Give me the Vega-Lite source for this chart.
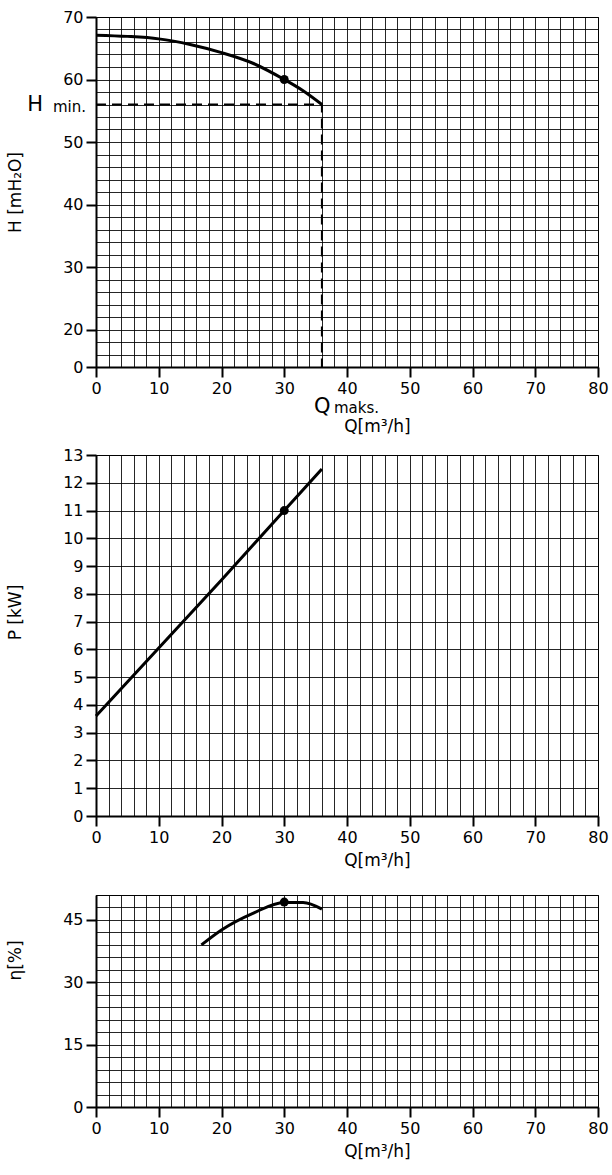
{
  "$schema": "https://vega.github.io/schema/vega-lite/v6.json",
  "padding": {"top": 8, "left": 6, "right": 5, "bottom": 5},
  "background": "white",
  "config": {
    "font": "DejaVu Sans",
    "view": {"stroke": "black", "strokeWidth": 1},
    "axis": {
      "labelFont": "DejaVu Sans", "labelFontSize": 16, "labelColor": "black",
      "titleFont": "DejaVu Sans", "titleFontSize": 17, "titleFontWeight": "normal", "titleColor": "black",
      "domainColor": "black", "domainWidth": 2, "tickColor": "black", "tickWidth": 2, "tickSize": 10,
      "gridColor": "black", "gridWidth": 1, "gridOpacity": 0.85, "labelPadding": 3,
      "labelFlush": false, "labelOverlap": false, "labelBound": false
    }
  },
  "datasets": {
    "head": [
      {"Q": 0, "H": 67.1}, {"Q": 5, "H": 66.9}, {"Q": 10, "H": 66.5}, {"Q": 15, "H": 65.6},
      {"Q": 20, "H": 64.3}, {"Q": 25, "H": 62.6}, {"Q": 30, "H": 60}, {"Q": 33, "H": 58.2}, {"Q": 36, "H": 56}
    ],
    "power": [
      {"Q": 0, "P": 3.6}, {"Q": 10, "P": 6.05}, {"Q": 20, "P": 8.5}, {"Q": 30, "P": 11}, {"Q": 36, "P": 12.5}
    ],
    "eff": [
      {"Q": 16.8, "E": 39}, {"Q": 20, "E": 42.6}, {"Q": 25, "E": 46.6}, {"Q": 30, "E": 49.2}, {"Q": 33, "E": 49.2}, {"Q": 36, "E": 47.6}
    ]
  },
  "spacing": 11,
  "bounds": "full",
  "vconcat": [
    {
      "width": 502, "height": 350,
      "encoding": {
        "x": {"field": "Q", "type": "quantitative", "scale": {"domain": [0, 80], "nice": false, "zero": false},
          "axis": {"title": "Q[m³/h]", "titleX": 281, "titleAlign": "center", "titlePadding": 22, "format": "d",
            "values": [0,2,4,6,8,10,12,14,16,18,20,22,24,26,28,30,32,34,36,38,40,42,44,46,48,50,52,54,56,58,60,62,64,66,68,70,72,74,76,78,80],
            "labelExpr": "datum.value % 10 === 0 ? datum.label : ''",
            "tickColor": {"condition": {"test": "datum.value % 10 === 0", "value": "black"}, "value": "transparent"}}},
        "y": {"field": "H", "type": "quantitative", "scale": {"domain": [14, 70], "nice": false, "zero": false},
          "axis": {"title": "H [mH₂O]", "titlePadding": 38, "format": "d",
            "values": [14,16,18,20,22,24,26,28,30,32,34,36,38,40,42,44,46,48,50,52,54,56,58,60,62,64,66,68,70],
            "labelExpr": "datum.value === 14 ? '0' : (datum.value % 10 === 0 ? datum.label : '')",
            "tickColor": {"condition": {"test": "datum.value === 14 || datum.value % 10 === 0", "value": "black"}, "value": "transparent"}}}
      },
      "layer": [
        {"data": {"name": "head"}, "mark": {"type": "line", "color": "black", "strokeWidth": 3, "interpolate": "monotone"}},
        {"data": {"values": [{"Q": 30, "H": 60}]}, "mark": {"type": "circle", "color": "black", "size": 80, "opacity": 1}},
        {"data": {"values": [{"Q": 0, "H": 56, "o": 1}, {"Q": 36, "H": 56, "o": 2}, {"Q": 36, "H": 14, "o": 3}]},
          "mark": {"type": "line", "color": "black", "strokeWidth": 2, "strokeDash": [10, 6]},
          "encoding": {"order": {"field": "o", "type": "quantitative"}}},
        {"data": {"values": [{"Q": 0, "H": 56, "t": "H"}]},
          "mark": {"type": "text", "align": "right", "baseline": "middle", "fontSize": 21, "dx": -53, "color": "black"},
          "encoding": {"text": {"field": "t"}}},
        {"data": {"values": [{"Q": 0, "H": 56, "t": "min."}]},
          "mark": {"type": "text", "align": "right", "baseline": "middle", "fontSize": 15, "dx": -10, "dy": 2, "color": "black"},
          "encoding": {"text": {"field": "t"}}},
        {"data": {"values": [{"Q": 36, "H": 14, "t": "Q"}]},
          "mark": {"type": "text", "align": "left", "baseline": "middle", "fontSize": 21, "dx": -8, "dy": 40, "color": "black"},
          "encoding": {"text": {"field": "t"}}},
        {"data": {"values": [{"Q": 36, "H": 14, "t": "maks."}]},
          "mark": {"type": "text", "align": "left", "baseline": "middle", "fontSize": 15, "dx": 12, "dy": 41, "color": "black"},
          "encoding": {"text": {"field": "t"}}}
      ]
    },
    {
      "width": 502, "height": 361,
      "encoding": {
        "x": {"field": "Q", "type": "quantitative", "scale": {"domain": [0, 80], "nice": false, "zero": false},
          "axis": {"title": ["Q[m³/h]", ""], "titleLineHeight": 6, "titleX": 281, "titleAlign": "center", "titlePadding": 7, "format": "d",
            "values": [0,2,4,6,8,10,12,14,16,18,20,22,24,26,28,30,32,34,36,38,40,42,44,46,48,50,52,54,56,58,60,62,64,66,68,70,72,74,76,78,80],
            "labelExpr": "datum.value % 10 === 0 ? datum.label : ''",
            "tickColor": {"condition": {"test": "datum.value % 10 === 0", "value": "black"}, "value": "transparent"}}},
        "y": {"field": "P", "type": "quantitative", "scale": {"domain": [0, 13], "nice": false, "zero": false},
          "axis": {"title": "P [kW]", "titlePadding": 38, "titleY": 157, "format": "d",
            "values": [0,0.5,1,1.5,2,2.5,3,3.5,4,4.5,5,5.5,6,6.5,7,7.5,8,8.5,9,9.5,10,10.5,11,11.5,12,12.5,13],
            "labelExpr": "datum.value % 1 === 0 ? datum.label : ''",
            "tickColor": {"condition": {"test": "datum.value % 1 === 0", "value": "black"}, "value": "transparent"}}}
      },
      "layer": [
        {"data": {"name": "power"}, "mark": {"type": "line", "color": "black", "strokeWidth": 3}},
        {"data": {"values": [{"Q": 30, "P": 11}]}, "mark": {"type": "circle", "color": "black", "size": 80, "opacity": 1}}
      ]
    },
    {
      "width": 502, "height": 212,
      "encoding": {
        "x": {"field": "Q", "type": "quantitative", "scale": {"domain": [0, 80], "nice": false, "zero": false},
          "axis": {"title": "Q[m³/h]", "titleX": 281, "titleAlign": "center", "titlePadding": 7, "format": "d",
            "values": [0,2,4,6,8,10,12,14,16,18,20,22,24,26,28,30,32,34,36,38,40,42,44,46,48,50,52,54,56,58,60,62,64,66,68,70,72,74,76,78,80],
            "labelExpr": "datum.value % 10 === 0 ? datum.label : ''",
            "tickColor": {"condition": {"test": "datum.value % 10 === 0", "value": "black"}, "value": "transparent"}}},
        "y": {"field": "E", "type": "quantitative", "scale": {"domain": [0, 51], "nice": false, "zero": false},
          "axis": {"title": "η[%]", "titlePadding": 38, "titleY": 65, "format": "d",
            "values": [0,3,6,9,12,15,18,21,24,27,30,33,36,39,42,45,48,51],
            "labelExpr": "datum.value % 15 === 0 ? datum.label : ''",
            "tickColor": {"condition": {"test": "datum.value % 15 === 0", "value": "black"}, "value": "transparent"}}}
      },
      "layer": [
        {"data": {"name": "eff"}, "mark": {"type": "line", "color": "black", "strokeWidth": 3, "interpolate": "monotone"}},
        {"data": {"values": [{"Q": 30, "E": 49.3}]}, "mark": {"type": "circle", "color": "black", "size": 80, "opacity": 1}}
      ]
    }
  ]
}
